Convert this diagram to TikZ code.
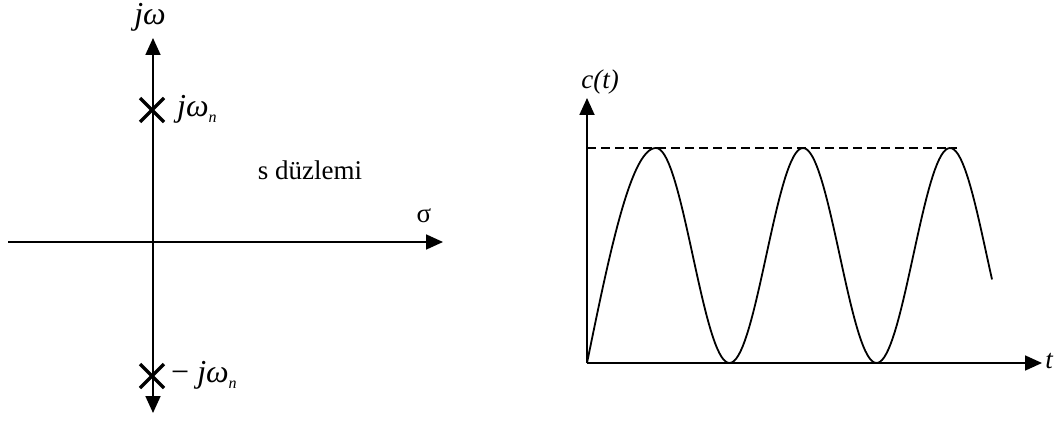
\documentclass[tikz,border=0pt]{standalone}
\usepackage{fontspec}
\setmainfont{Liberation Serif}
\usetikzlibrary{arrows.meta}
\begin{document}
\begin{tikzpicture}[x=1pt,y=-1pt,
  axis/.style={line width=1.8pt,-{Triangle[width=15pt,length=17pt]}},
  daxis/.style={line width=1.8pt,{Triangle[width=15pt,length=17pt]}-{Triangle[width=15pt,length=17pt]}},
  pole/.style={line width=3.2pt},
  lbl/.style={font=\fontsize{27}{30}\selectfont, inner sep=0pt},
  glbl/.style={font=\fontsize{32}{34}\selectfont\itshape, inner sep=0pt},
  curve/.style={line width=1.8pt,line join=round}]
\newcommand{\subn}{\raisebox{-6pt}{\fontsize{16}{16}\selectfont\itshape n}}
\useasboundingbox (0,0) rectangle (1057,441);
% s-plane
\coordinate (vb) at (153,413);
\coordinate (vt) at (153,38);
\coordinate (hl) at (8,242);
\coordinate (hr) at (443,242);
\draw[daxis] (vb) -- (vt);
\draw[axis] (hl) -- (hr);
\coordinate (p1) at (152,110);
\coordinate (p2) at (152,376);
\draw[pole] ([shift={(-12,-12)}]p1) -- ([shift={(12,12)}]p1);
\draw[pole] ([shift={(-12,12)}]p1) -- ([shift={(12,-12)}]p1);
\draw[pole] ([shift={(-12,-12)}]p2) -- ([shift={(12,12)}]p2);
\draw[pole] ([shift={(-12,12)}]p2) -- ([shift={(12,-12)}]p2);
\node[glbl] (jw) at (150,17) {jω};
\node[glbl,anchor=west] (jwn) at (177,109) {jω\subn};
\node[glbl,anchor=west] (mjwn) at (171,375) {\upshape − \itshape jω\subn};
\node[lbl] (sd) at (310,170) {s düzlemi};
\node[lbl] (sig) at (424,216) {σ};
% time response
\coordinate (o) at (587,363);
\coordinate (ct) at (587,98);
\coordinate (tr) at (1042,363);
\draw[axis] (o) -- (ct);
\draw[axis] (o) -- (tr);
\node[lbl] (c) at (600,82) {\itshape c(t)};
\node[lbl] (t) at (1049,361) {\itshape t};
\draw[line width=1.6pt,dash pattern=on 9pt off 5pt] (587,148) -- (957,148);
\draw[curve] plot[domain=587:656,samples=40,variable=\x] (\x,{363-215*sin((\x-587)/69*90)})
  -- plot[domain=656:992,samples=160,variable=\x] (\x,{363-215*(1+cos((\x-656)/147*360))/2});
\end{tikzpicture}
\end{document}
